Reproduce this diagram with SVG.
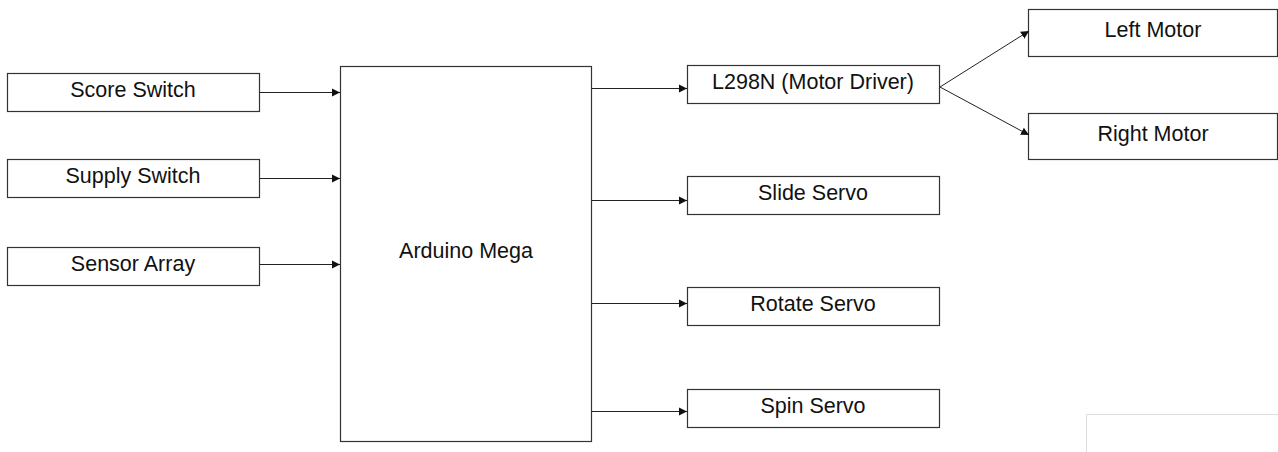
<svg xmlns="http://www.w3.org/2000/svg" width="1278" height="452" viewBox="0 0 1278 452">
<style>
.box{fill:#fff;stroke:#333;stroke-width:1.2}
.lbl{font-family:"Liberation Sans",Arial,sans-serif;font-size:21.5px;fill:#111;text-anchor:middle}
.con{stroke:#222;stroke-width:1;fill:none;marker-end:url(#ah)}
</style>
<defs>
<marker id="ah" viewBox="0 0 10 10" refX="10" refY="5" markerWidth="8" markerHeight="9" markerUnits="userSpaceOnUse" orient="auto">
<path d="M0,0 L10,5 L0,10 Z" fill="#111"/>
</marker>
</defs>
<rect width="1278" height="452" fill="#fff"/>
<g id="score-switch"><rect class="box" x="7.5" y="73.5" width="252" height="38"/><text class="lbl" x="133" y="97">Score Switch</text></g>
<g id="supply-switch"><rect class="box" x="7.5" y="159.5" width="252" height="38"/><text class="lbl" x="133" y="183">Supply Switch</text></g>
<g id="sensor-array"><rect class="box" x="7.5" y="247.5" width="252" height="38"/><text class="lbl" x="133" y="271">Sensor Array</text></g>
<g id="arduino-mega"><rect class="box" x="340.5" y="66.5" width="251" height="375"/><text class="lbl" x="466" y="258">Arduino Mega</text></g>
<g id="l298n"><rect class="box" x="687.5" y="65.5" width="252" height="38"/><text class="lbl" x="813" y="89">L298N (Motor Driver)</text></g>
<g id="slide-servo"><rect class="box" x="687.5" y="176.5" width="252" height="38"/><text class="lbl" x="813" y="200">Slide Servo</text></g>
<g id="rotate-servo"><rect class="box" x="687.5" y="287.5" width="252" height="38"/><text class="lbl" x="813" y="311">Rotate Servo</text></g>
<g id="spin-servo"><rect class="box" x="687.5" y="389.5" width="252" height="38"/><text class="lbl" x="813" y="413">Spin Servo</text></g>
<g id="left-motor"><rect class="box" x="1028.5" y="9.5" width="249" height="47"/><text class="lbl" x="1153" y="37">Left Motor</text></g>
<g id="right-motor"><rect class="box" x="1028.5" y="113.5" width="249" height="46"/><text class="lbl" x="1153" y="141">Right Motor</text></g>
<g id="connectors">
<line class="con" x1="260" y1="92.5" x2="340" y2="92.5"/>
<line class="con" x1="260" y1="178.5" x2="340" y2="178.5"/>
<line class="con" x1="260" y1="264.5" x2="340" y2="264.5"/>
<line class="con" x1="592" y1="88.5" x2="687" y2="88.5"/>
<line class="con" x1="592" y1="200.5" x2="687" y2="200.5"/>
<line class="con" x1="592" y1="303.5" x2="687" y2="303.5"/>
<line class="con" x1="592" y1="411.5" x2="687" y2="411.5"/>
<line class="con" x1="940" y1="87" x2="1029" y2="31"/>
<line class="con" x1="940" y1="87" x2="1029" y2="135"/>
</g>
<path d="M1086.5,452 V414.5 H1278" fill="none" stroke="#ddd" stroke-width="1"/>
</svg>
